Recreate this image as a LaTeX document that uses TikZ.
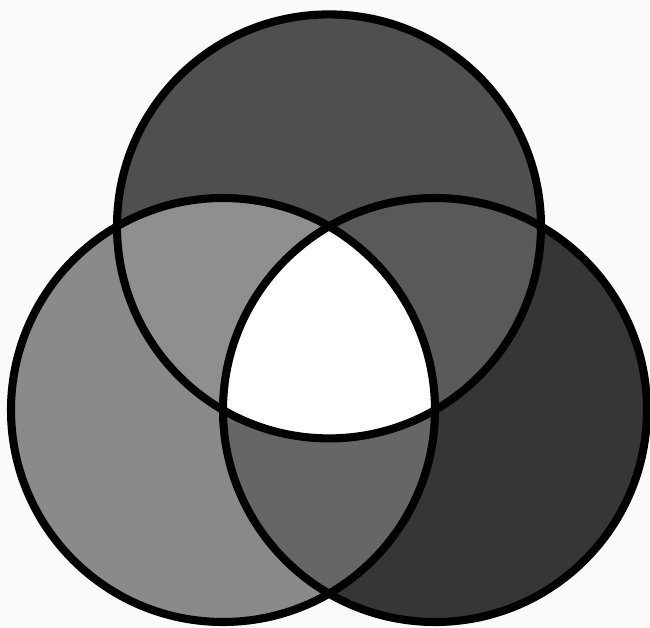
\documentclass[tikz,border=0pt]{standalone}
\usepackage{tikz}
\usetikzlibrary{calc}

\definecolor{paper}{gray}{0.98}
\definecolor{topgrey}{gray}{0.31}
\definecolor{leftgrey}{gray}{0.54}
\definecolor{rightgrey}{gray}{0.21}
\definecolor{tlgrey}{gray}{0.56}
\definecolor{trgrey}{gray}{0.35}
\definecolor{lrgrey}{gray}{0.40}

\begin{document}
\begin{tikzpicture}[
  x=0.02cm, y=0.02cm,
  ring/.style={draw=black, line width=4.6pt}
]
\def\vennr{212}
\fill[paper] (0,0) rectangle (650,627);
\useasboundingbox (0,0) rectangle (650,627);
\coordinate (cleft) at (223,217);
\coordinate (cright) at ($(cleft)+(0:\vennr)$);
\coordinate (ctop) at ($(cleft)+(60:\vennr)$);
% single regions
\fill[topgrey] (ctop) circle (\vennr);
\fill[leftgrey] (cleft) circle (\vennr);
\fill[rightgrey] (cright) circle (\vennr);
% lenses
\begin{scope}
  \clip (ctop) circle (\vennr);
  \fill[tlgrey] (cleft) circle (\vennr);
  \fill[trgrey] (cright) circle (\vennr);
\end{scope}
\begin{scope}
  \clip (cleft) circle (\vennr);
  \fill[lrgrey] (cright) circle (\vennr);
  \clip (ctop) circle (\vennr);
  \fill[white] (cright) circle (\vennr);
\end{scope}
% outlines
\draw[ring] (ctop) circle (\vennr);
\draw[ring] (cleft) circle (\vennr);
\draw[ring] (cright) circle (\vennr);
\end{tikzpicture}
\end{document}
